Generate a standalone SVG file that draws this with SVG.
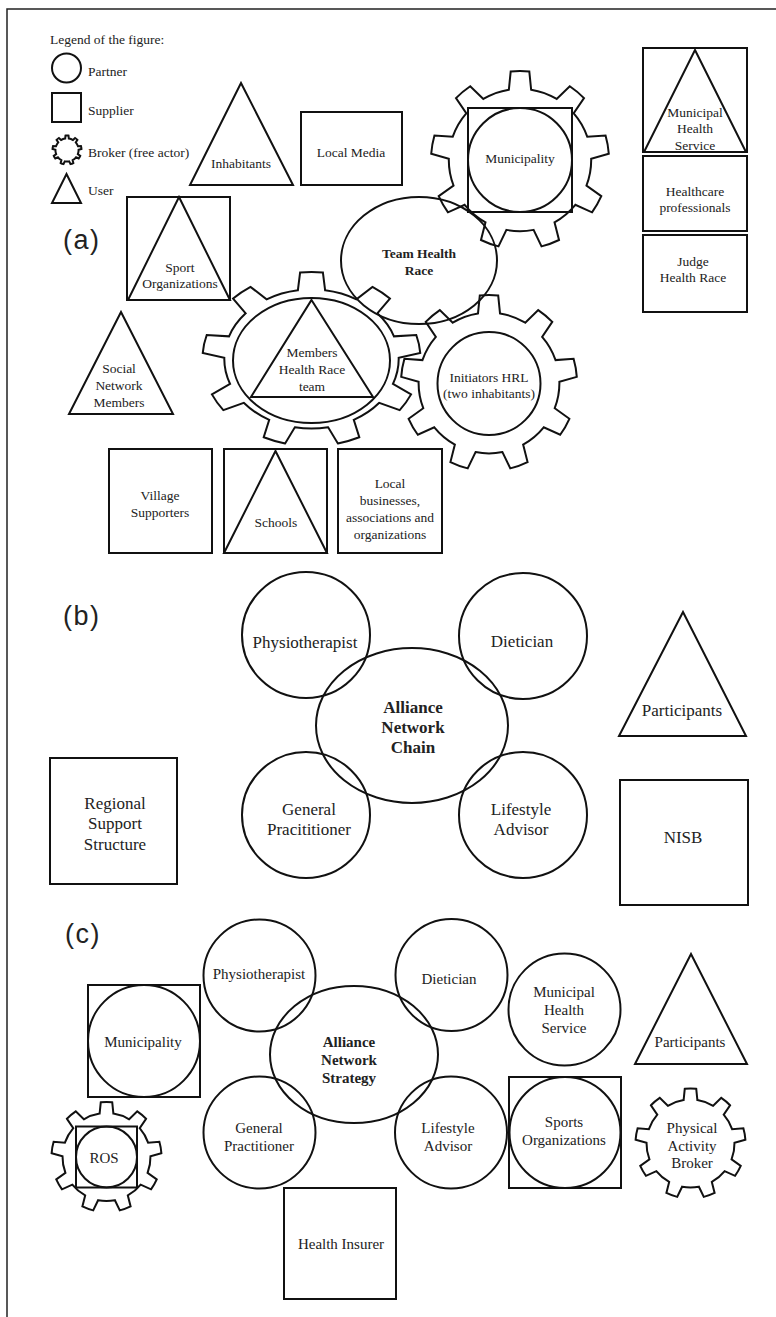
<svg xmlns="http://www.w3.org/2000/svg" xmlns:xlink="http://www.w3.org/1999/xlink" width="776" height="1317" viewBox="0 0 776 1317">
<style>
.s{fill:none;stroke:#111;stroke-width:2}
.g{fill:none;stroke:#111;stroke-width:2;vector-effect:non-scaling-stroke}
text{font-family:"Liberation Serif","Times New Roman",serif;fill:#222;text-anchor:middle}
.a{font-size:13.5px}
.b{font-size:17px}
.c{font-size:15px}
.bold{font-weight:bold}
.lg{text-anchor:start;font-size:13.5px}
.lbl{font-family:"Liberation Sans",Arial,sans-serif;font-size:27px;text-anchor:start;letter-spacing:1.5px}
</style>
<defs>
<path id="gear" class="g" d="M-12.51,-79.02 L-10.45,-99.45 A100,100 0 0 1 10.45,-99.45 L12.51,-79.02 A80,80 0 0 1 41.20,-68.57 L55.92,-82.90 A100,100 0 0 1 71.93,-69.47 L60.38,-52.48 A80,80 0 0 1 75.64,-26.05 L96.13,-27.56 A100,100 0 0 1 99.76,-6.98 L79.99,-1.40 A80,80 0 0 1 74.69,28.67 L91.36,40.67 A100,100 0 0 1 80.90,58.78 L62.17,50.35 A80,80 0 0 1 38.78,69.97 L43.84,89.88 A100,100 0 0 1 24.19,97.03 L15.26,78.53 A80,80 0 0 1 -15.26,78.53 L-24.19,97.03 A100,100 0 0 1 -43.84,89.88 L-38.78,69.97 A80,80 0 0 1 -62.17,50.35 L-80.90,58.78 A100,100 0 0 1 -91.36,40.67 L-74.69,28.67 A80,80 0 0 1 -79.99,-1.40 L-99.76,-6.98 A100,100 0 0 1 -96.13,-27.56 L-75.64,-26.05 A80,80 0 0 1 -60.38,-52.48 L-71.93,-69.47 A100,100 0 0 1 -55.92,-82.90 L-41.20,-68.57 A80,80 0 0 1 -12.51,-79.02 Z"/>
</defs>
<rect width="776" height="1317" fill="#fff"/>
<g id="frame" fill="none" stroke="#222" stroke-width="1.5">
<path d="M7,1317 V9 H776"/>
</g>
<g id="legend">
<text class="lg" x="50" y="44">Legend of the figure:</text>
<circle class="s" cx="66.5" cy="68" r="14.5"/>
<text class="lg" x="88" y="76">Partner</text>
<rect class="s" x="52" y="93" width="29" height="29"/>
<text class="lg" x="88" y="115">Supplier</text>
<use xlink:href="#gear" transform="translate(67,150) scale(0.145)"/>
<text class="lg" x="88" y="157">Broker (free actor)</text>
<path class="s" d="M66.5,174 L81,203 L52,203 Z"/>
<text class="lg" x="88" y="195">User</text>
</g>
<g id="section-a">
<text class="lbl" x="63" y="249">(a)</text>
<g id="a-inhabitants"><path class="s" d="M241,83 L293,185 L190,185 Z"/><text class="a" x="241" y="168">Inhabitants</text></g>
<g id="a-local-media"><rect class="s" x="301" y="112" width="101" height="73"/><text class="a" x="351" y="157">Local Media</text></g>
<g id="a-sport-org"><rect class="s" x="127" y="197" width="103" height="103"/><path class="s" d="M179,197 L230,300 L128,300 Z"/><text class="a" x="180" y="271.5">Sport</text><text class="a" x="180" y="288">Organizations</text></g>
<g id="a-municipality"><use xlink:href="#gear" transform="translate(520,160) scale(0.89)"/><rect class="s" x="468" y="108" width="104" height="104"/><circle class="s" cx="520" cy="160" r="52"/><text class="a" x="520" y="163">Municipality</text></g>
<g id="a-team"><ellipse class="s" cx="419" cy="260.5" rx="78" ry="63.5"/><text class="a bold" x="419" y="258">Team Health</text><text class="a bold" x="419" y="275">Race</text></g>
<g id="a-mhs"><rect class="s" x="643" y="48" width="104" height="104"/><path class="s" d="M695,50 L746,152 L644,152 Z"/><text class="a" x="695" y="116.5">Municipal</text><text class="a" x="695" y="133">Health</text><text class="a" x="695" y="149.5">Service</text></g>
<g id="a-healthcare"><rect class="s" x="643" y="156" width="104" height="75"/><text class="a" x="695" y="195.5">Healthcare</text><text class="a" x="695" y="211.5">professionals</text></g>
<g id="a-judge"><rect class="s" x="643" y="235" width="104" height="77"/><text class="a" x="693" y="265.5">Judge</text><text class="a" x="693" y="281.5">Health  Race</text></g>
<g id="a-social"><path class="s" d="M121,312 L173,414 L69,414 Z"/><text class="a" x="119" y="372.5">Social</text><text class="a" x="119" y="389.5">Network</text><text class="a" x="119" y="406.5">Members</text></g>
<g id="a-members"><use xlink:href="#gear" transform="translate(311.5,359) scale(1.09,0.87)"/><ellipse class="s" cx="311.5" cy="360.5" rx="78.5" ry="62.5"/><path class="s" d="M311.5,300 L373,397 L251,397 Z"/><text class="a" x="312" y="356.5">Members</text><text class="a" x="312" y="373.5">Health  Race</text><text class="a" x="312" y="390.5">team</text></g>
<g id="a-initiators"><use xlink:href="#gear" transform="translate(489,383) scale(0.88)"/><circle class="s" cx="489" cy="383.5" r="51.5"/><text class="a" x="489" y="381.5">Initiators  HRL</text><text class="a" x="489" y="397.5">(two inhabitants)</text></g>
<g id="a-village"><rect class="s" x="109" y="449" width="103" height="104"/><text class="a" x="160" y="499.5">Village</text><text class="a" x="160" y="516.5">Supporters</text></g>
<g id="a-schools"><rect class="s" x="224" y="449" width="103" height="104"/><path class="s" d="M275.5,451 L327,553 L224,553 Z"/><text class="a" x="276" y="526.5">Schools</text></g>
<g id="a-local-business"><rect class="s" x="338" y="449" width="104" height="104"/><text class="a" x="390" y="487.5">Local</text><text class="a" x="390" y="504.5">businesses,</text><text class="a" x="390" y="521.5">associations and</text><text class="a" x="390" y="538.5">organizations</text></g>
</g>
<g id="section-b">
<text class="lbl" x="63" y="625">(b)</text>
<g id="b-physio"><ellipse class="s" cx="306" cy="635" rx="64" ry="63"/><text class="b" x="305" y="647.5">Physiotherapist</text></g>
<g id="b-dietician"><ellipse class="s" cx="523" cy="636" rx="64" ry="63"/><text class="b" x="522" y="646.5">Dietician</text></g>
<g id="b-alliance"><ellipse class="s" cx="412" cy="725.5" rx="96" ry="77.5"/><text class="b bold" x="413" y="712.5">Alliance</text><text class="b bold" x="413" y="732.5">Network</text><text class="b bold" x="413" y="752.5">Chain</text></g>
<g id="b-gp"><ellipse class="s" cx="306" cy="815" rx="64" ry="63"/><text class="b" x="309" y="814.5">General</text><text class="b" x="309" y="834.5">Pracititioner</text></g>
<g id="b-lifestyle"><ellipse class="s" cx="523" cy="815" rx="64" ry="63"/><text class="b" x="521" y="814.5">Lifestyle</text><text class="b" x="521" y="834.5">Advisor</text></g>
<g id="b-participants"><path class="s" d="M683,612 L746,736 L619,736 Z"/><text class="b" x="682" y="715.5">Participants</text></g>
<g id="b-regional"><rect class="s" x="50" y="758" width="127" height="126"/><text class="b" x="115" y="808.5">Regional</text><text class="b" x="115" y="829">Support</text><text class="b" x="115" y="850">Structure</text></g>
<g id="b-nisb"><rect class="s" x="620" y="780" width="128" height="125"/><text class="b" x="683" y="842.5">NISB</text></g>
</g>
<g id="section-c">
<text class="lbl" x="65" y="943">(c)</text>
<g id="c-physio"><circle class="s" cx="259.5" cy="975.5" r="56"/><text class="c" x="259" y="979">Physiotherapist</text></g>
<g id="c-dietician"><circle class="s" cx="451.5" cy="975" r="56"/><text class="c" x="449" y="984">Dietician</text></g>
<g id="c-mhs"><circle class="s" cx="564.5" cy="1009.5" r="56"/><text class="c" x="564" y="997">Municipal</text><text class="c" x="564" y="1015">Health</text><text class="c" x="564" y="1033">Service</text></g>
<g id="c-alliance"><ellipse class="s" cx="354" cy="1054.5" rx="84" ry="68.5"/><text class="c bold" x="349" y="1047">Alliance</text><text class="c bold" x="349" y="1065">Network</text><text class="c bold" x="349" y="1083">Strategy</text></g>
<g id="c-gp"><circle class="s" cx="259.5" cy="1132.5" r="56"/><text class="c" x="259" y="1133">General</text><text class="c" x="259" y="1151">Practitioner</text></g>
<g id="c-lifestyle"><circle class="s" cx="451" cy="1132.5" r="56"/><text class="c" x="448" y="1133">Lifestyle</text><text class="c" x="448" y="1151">Advisor</text></g>
<g id="c-sports"><rect class="s" x="509" y="1077" width="112" height="111"/><circle class="s" cx="565" cy="1132.5" r="55.5"/><text class="c" x="564" y="1127">Sports</text><text class="c" x="564" y="1145">Organizations</text></g>
<g id="c-municipality"><rect class="s" x="88" y="985" width="112" height="112"/><circle class="s" cx="144" cy="1041" r="56"/><text class="c" x="143" y="1047">Municipality</text></g>
<g id="c-ros"><use xlink:href="#gear" transform="translate(106.5,1157) scale(0.55)"/><rect class="s" x="76" y="1126.5" width="61" height="61"/><circle class="s" cx="106.5" cy="1157" r="30.5"/><text class="c" x="104" y="1163">ROS</text></g>
<g id="c-participants"><path class="s" d="M691,954 L747,1064 L635,1064 Z"/><text class="c" x="690" y="1047">Participants</text></g>
<g id="c-broker"><use xlink:href="#gear" transform="translate(690.5,1143.5) scale(0.55)"/><text class="c" x="692" y="1133">Physical</text><text class="c" x="692" y="1151">Activity</text><text class="c" x="692" y="1168">Broker</text></g>
<g id="c-insurer"><rect class="s" x="284" y="1188" width="112" height="111"/><text class="c" x="341" y="1249">Health  Insurer</text></g>
</g>
<g id="connectors"/>
</svg>
